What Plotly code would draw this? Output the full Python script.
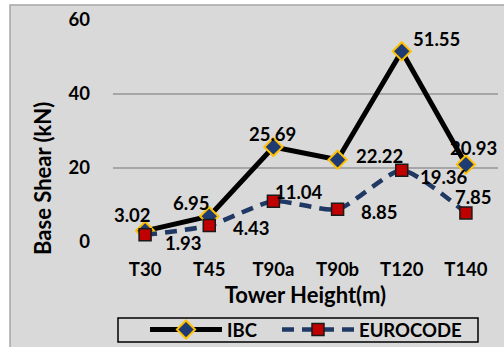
import plotly.graph_objects as go

# Tower labels and base shear results (kN)
towers = ["T30", "T45", "T90a", "T90b", "T120", "T140"]
ibc = [3.02, 6.95, 25.69, 22.22, 51.55, 20.93]
eurocode = [1.93, 4.43, 11.04, 8.85, 19.36, 7.85]
y_ticks = [0, 20, 40, 60]

# label offsets (pixels) for each data label
ibc_shift = [(-13, 16), (-18, 13), (-1, 13), (42, 4), (35, 12), (8, 17)]
euro_shift = [(38, -8), (42, -2), (26, 9), (42, -3), (42, -7), (8, 16)]

FONT = "Lato"
W, H = 504, 347
L, R, T, B = 113, 6, 20, 105
pw, ph = W - L - R, H - T - B


def px_x(p):
    return (p - L) / pw


def px_y(p):
    return (H - B - p) / ph


fig = go.Figure()
fig.add_trace(go.Scatter(
    x=towers, y=ibc, name="IBC", mode="lines+markers",
    line=dict(color="black", width=5),
    marker=dict(symbol="diamond", size=14, color="#1f3b73",
                line=dict(color="#ffc000", width=2)),
    legend="legend",
))
fig.add_trace(go.Scatter(
    x=towers, y=eurocode, name="EUROCODE", mode="lines+markers",
    line=dict(color="#1f3864", width=4.5, dash="12px,8px", shape="spline", smoothing=0.6),
    marker=dict(symbol="square", size=12, color="#c00000",
                line=dict(color="#1a1a1a", width=1.5)),
    legend="legend2",
))

annotations = []
for vals, shifts in ((ibc, ibc_shift), (eurocode, euro_shift)):
    for t, v, (dx, dy) in zip(towers, vals, shifts):
        annotations.append(dict(
            x=t, y=v, text=f"{v:.2f}", showarrow=False,
            xanchor="center", yanchor="middle",
            xshift=dx, yshift=dy,
            font=dict(family=FONT, size=18.5, color="black", weight="bold"),
        ))

annotations.append(dict(
    x=px_x(42), y=px_y(179), xref="paper", yref="paper",
    xanchor="center", yanchor="middle",
    text="Base Shear (kN)", textangle=-90, showarrow=False,
    font=dict(family=FONT, size=22, color="black", weight="bold"),
))

shapes = [
    # outer chart frame
    dict(type="rect", xref="paper", yref="paper",
         x0=px_x(10), x1=px_x(W + 20), y0=px_y(H + 20), y1=px_y(5),
         fillcolor="#d9d9d9", line=dict(color="#a6a6a6", width=1.5), layer="below"),
    # legend box
    dict(type="rect", xref="paper", yref="paper",
         x0=px_x(118), x1=px_x(478), y0=px_y(342), y1=px_y(318),
         fillcolor="#d9d9d9", line=dict(color="black", width=1.5), layer="below"),
]

legend_style = dict(
    orientation="h", xanchor="left", y=px_y(330), yanchor="middle",
    bgcolor="rgba(0,0,0,0)", borderwidth=0,
    font=dict(family=FONT, size=18.5, color="black", weight="bold"),
    itemwidth=72,
)

fig.update_layout(
    width=W, height=H,
    margin=dict(l=L, r=R, t=T, b=B, autoexpand=False),
    paper_bgcolor="white",
    plot_bgcolor="#f2f2f2",
    font=dict(family=FONT, size=18.5, color="black", weight="bold"),
    showlegend=True,
    legend=dict(x=px_x(145), **legend_style),
    legend2=dict(x=px_x(277), **legend_style),
    annotations=annotations,
    shapes=shapes,
)
fig.update_xaxes(
    type="category", range=[-0.5, 5.5], showgrid=False, zeroline=False,
    showline=False, ticks="", ticklabelstandoff=14,
    title=dict(text="Tower Height(m)", standoff=9,
               font=dict(family=FONT, size=22, weight="bold")),
)
fig.update_yaxes(
    range=[0, 60], tickvals=y_ticks, showgrid=True, gridcolor="#a6a6a6", gridwidth=1.5,
    zeroline=False, showline=False, ticks="", ticklabelstandoff=22,
)

fig.write_html("out.html")
